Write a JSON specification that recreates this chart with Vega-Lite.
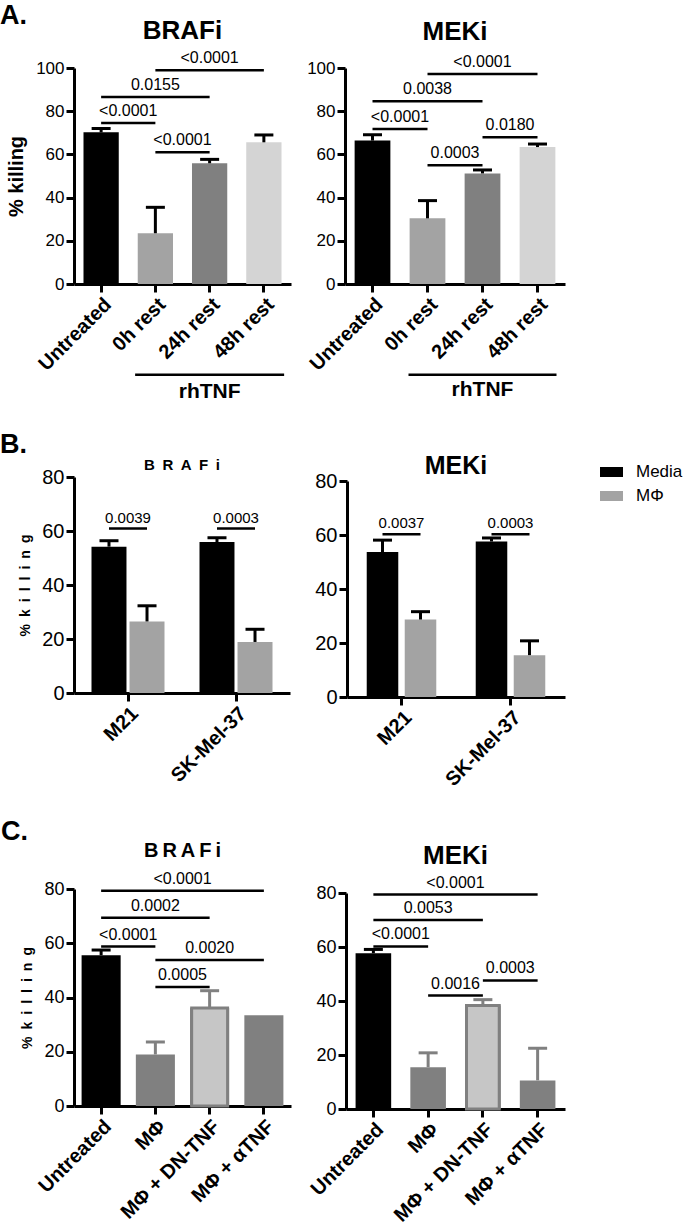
{
 "$schema": "https://vega.github.io/schema/vega-lite/v6.json",
 "background": "white",
 "padding": {"left": 0, "top": 2, "right": 0, "bottom": 0},
 "config": {
  "font": "Liberation Sans",
  "view": {"stroke": null},
  "axis": {"domainColor": "#000000", "domainWidth": 3, "tickColor": "#000000", "tickWidth": 3, "tickSize": 8, "labelColor": "#000000", "titleColor": "#000000", "grid": false, "labelFont": "Liberation Sans", "labelFontSize": 17, "labelPadding": 2, "labelOverlap": false, "titleFont": "Liberation Sans"},
  "axisX": {"labelAngle": -45, "labelFontWeight": "bold", "labelFontSize": 20},
  "axisY": {"titleFontSize": 14, "titleFontWeight": "bold"},
  "title": {"color": "#000000", "font": "Liberation Sans", "fontWeight": "bold"},
  "text": {"font": "Liberation Sans", "color": "#000000"},
  "tick": {"opacity": 1},
  "legend": {"labelFont": "Liberation Sans", "labelColor": "#000000"}
 },
 "datasets": {
  "aL": [
   {"cond": "Untreated", "mean": 70.2, "hi": 72.0},
   {"cond": "0h rest", "mean": 23.5, "hi": 35.5},
   {"cond": "24h rest", "mean": 55.9, "hi": 57.7},
   {"cond": "48h rest", "mean": 65.6, "hi": 69.0}
  ],
  "aLb": [
   {"from": "Untreated", "to": "0h rest", "span": 1, "y": 74.5, "label": "<0.0001"},
   {"from": "Untreated", "to": "24h rest", "span": 2, "y": 86.6, "label": "0.0155"},
   {"from": "0h rest", "to": "48h rest", "span": 2, "y": 99.0, "label": "<0.0001"},
   {"from": "0h rest", "to": "24h rest", "span": 1, "y": 61.0, "label": "<0.0001"}
  ],
  "aR": [
   {"cond": "Untreated", "mean": 66.4, "hi": 69.1},
   {"cond": "0h rest", "mean": 30.4, "hi": 38.6},
   {"cond": "24h rest", "mean": 51.2, "hi": 52.8},
   {"cond": "48h rest", "mean": 63.4, "hi": 64.8}
  ],
  "aRb": [
   {"from": "Untreated", "to": "0h rest", "span": 1, "y": 71.8, "label": "<0.0001"},
   {"from": "Untreated", "to": "24h rest", "span": 2, "y": 84.6, "label": "0.0038"},
   {"from": "0h rest", "to": "48h rest", "span": 2, "y": 97.2, "label": "<0.0001"},
   {"from": "0h rest", "to": "24h rest", "span": 1, "y": 55.0, "label": "0.0003"},
   {"from": "24h rest", "to": "48h rest", "span": 1, "y": 67.9, "label": "0.0180"}
  ],
  "bL": [
   {"cell": "M21", "treat": "Media", "mean": 54.2, "hi": 56.4},
   {"cell": "M21", "treat": "MΦ", "mean": 26.5, "hi": 32.3},
   {"cell": "SK-Mel-37", "treat": "Media", "mean": 55.9, "hi": 57.5},
   {"cell": "SK-Mel-37", "treat": "MΦ", "mean": 18.9, "hi": 23.6}
  ],
  "bLb": [
   {"cell": "M21", "y": 60.9, "label": "0.0039"},
   {"cell": "SK-Mel-37", "y": 60.9, "label": "0.0003"}
  ],
  "bR": [
   {"cell": "M21", "treat": "Media", "mean": 53.7, "hi": 58.1},
   {"cell": "M21", "treat": "MΦ", "mean": 28.7, "hi": 31.6},
   {"cell": "SK-Mel-37", "treat": "Media", "mean": 57.6, "hi": 58.9},
   {"cell": "SK-Mel-37", "treat": "MΦ", "mean": 15.5, "hi": 20.8}
  ],
  "bRb": [
   {"cell": "M21", "y": 60.3, "label": "0.0037"},
   {"cell": "SK-Mel-37", "y": 60.3, "label": "0.0003"}
  ],
  "cL": [
   {"cond": "Untreated", "mean": 55.6, "hi": 57.5},
   {"cond": "MΦ", "mean": 19.0, "hi": 23.6},
   {"cond": "MΦ + DN-TNF", "mean": 36.1, "hi": 42.5},
   {"cond": "MΦ + αTNF", "mean": 33.5, "hi": null}
  ],
  "cLb": [
   {"from": "Untreated", "to": "MΦ", "span": 1, "y": 58.8, "label": "<0.0001"},
   {"from": "Untreated", "to": "MΦ + DN-TNF", "span": 2, "y": 69.4, "label": "0.0002"},
   {"from": "Untreated", "to": "MΦ + αTNF", "span": 3, "y": 79.4, "label": "<0.0001"},
   {"from": "MΦ", "to": "MΦ + DN-TNF", "span": 1, "y": 43.9, "label": "0.0005"},
   {"from": "MΦ", "to": "MΦ + αTNF", "span": 2, "y": 53.8, "label": "0.0020"}
  ],
  "cR": [
   {"cond": "Untreated", "mean": 57.7, "hi": 59.1},
   {"cond": "MΦ", "mean": 15.5, "hi": 20.8},
   {"cond": "MΦ + DN-TNF", "mean": 38.3, "hi": 40.5},
   {"cond": "MΦ + αTNF", "mean": 10.6, "hi": 22.5}
  ],
  "cRb": [
   {"from": "Untreated", "to": "MΦ", "span": 1, "y": 60.2, "label": "<0.0001"},
   {"from": "Untreated", "to": "MΦ + DN-TNF", "span": 2, "y": 70.0, "label": "0.0053"},
   {"from": "Untreated", "to": "MΦ + αTNF", "span": 3, "y": 79.4, "label": "<0.0001"},
   {"from": "MΦ", "to": "MΦ + DN-TNF", "span": 1, "y": 42.0, "label": "0.0016"},
   {"from": "MΦ + DN-TNF", "to": "MΦ + αTNF", "span": 1, "y": 47.6, "label": "0.0003"}
  ]
 },
 "bounds": "flush",
 "spacing": 409,
 "resolve": {"scale": {"color": "independent", "xOffset": "independent"}, "legend": {"color": "independent"}},
 "vconcat": [
  {
   "title": {"text": "A.", "fontSize": 27, "fontWeight": "bold", "anchor": "start", "frame": "group", "dx": -74, "dy": 12, "offset": 0},
   "bounds": "flush",
   "spacing": 54,
   "resolve": {"scale": {"color": "independent", "xOffset": "independent"}, "legend": {"color": "independent"}},
   "hconcat": [
    {
     "width": 217, "height": 216,
     "title": {"text": "BRAFi", "fontSize": 26, "anchor": "middle", "frame": "group", "offset": 0, "dy": -6},
     "layer": [
      {"data": {"name": "aL"}, "mark": {"type": "bar"},
       "encoding": {
        "x": {"field": "cond", "type": "nominal", "scale": {"domain": ["Untreated", "0h rest", "24h rest", "48h rest"], "paddingInner": 0.35, "paddingOuter": 0.175}, "axis": {"title": null}},
        "y": {"field": "mean", "type": "quantitative", "scale": {"domain": [0, 100], "nice": false}, "axis": {"values": [0, 20, 40, 60, 80, 100], "title": "% killing", "titleFontSize": 20, "titleFontWeight": "bold", "titlePadding": 9}},
        "color": {"field": "cond", "type": "nominal", "scale": {"domain": ["Untreated", "0h rest", "24h rest", "48h rest"], "range": ["#000000", "#a3a3a3", "#808080", "#d4d4d4"]}, "legend": null}
       }},
      {"data": {"name": "aL"}, "mark": {"type": "rule", "strokeWidth": 3, "color": "#000000"},
       "encoding": {"x": {"field": "cond", "type": "nominal"}, "y": {"field": "mean", "type": "quantitative"}, "y2": {"field": "hi"}}},
      {"data": {"name": "aL"}, "mark": {"type": "tick", "thickness": 3, "size": 19, "color": "#000000", "opacity": 1},
       "encoding": {"x": {"field": "cond", "type": "nominal"}, "y": {"field": "hi", "type": "quantitative"}}},
      {"data": {"name": "aLb"}, "mark": {"type": "rule", "strokeWidth": 2.5, "color": "#000000"},
       "encoding": {"x": {"field": "from", "type": "nominal"}, "x2": {"field": "to"}, "y": {"field": "y", "type": "quantitative"}}},
      {"data": {"name": "aLb"}, "transform": [{"filter": "datum.span == 1"}], "mark": {"type": "text", "fontSize": 16, "baseline": "alphabetic", "dy": -7, "dx": 27.1},
       "encoding": {"x": {"field": "from", "type": "nominal"}, "y": {"field": "y", "type": "quantitative"}, "text": {"field": "label"}}},
      {"data": {"name": "aLb"}, "transform": [{"filter": "datum.span == 2"}], "mark": {"type": "text", "fontSize": 16, "baseline": "alphabetic", "dy": -7, "dx": 54.25},
       "encoding": {"x": {"field": "from", "type": "nominal"}, "y": {"field": "y", "type": "quantitative"}, "text": {"field": "label"}}},
      {"data": {"values": [{}]}, "mark": {"type": "tick", "thickness": 2.5, "size": 149, "color": "#000000", "opacity": 1},
       "encoding": {"x": {"datum": "24h rest"}, "y": {"datum": -42}}},
      {"data": {"values": [{}]}, "mark": {"type": "text", "fontSize": 21, "fontWeight": "bold", "baseline": "alphabetic"},
       "encoding": {"x": {"datum": "24h rest"}, "y": {"datum": -53}, "text": {"value": "rhTNF"}}}
     ]
    },
    {
     "width": 220, "height": 216,
     "title": {"text": "MEKi", "fontSize": 26, "anchor": "middle", "frame": "group", "offset": 0, "dy": -9},
     "layer": [
      {"data": {"name": "aR"}, "mark": {"type": "bar"},
       "encoding": {
        "x": {"field": "cond", "type": "nominal", "scale": {"domain": ["Untreated", "0h rest", "24h rest", "48h rest"], "paddingInner": 0.35, "paddingOuter": 0.175}, "axis": {"title": null}},
        "y": {"field": "mean", "type": "quantitative", "scale": {"domain": [0, 100], "nice": false}, "axis": {"values": [0, 20, 40, 60, 80, 100], "title": null}},
        "color": {"field": "cond", "type": "nominal", "scale": {"domain": ["Untreated", "0h rest", "24h rest", "48h rest"], "range": ["#000000", "#a3a3a3", "#808080", "#d4d4d4"]}, "legend": null}
       }},
      {"data": {"name": "aR"}, "mark": {"type": "rule", "strokeWidth": 3, "color": "#000000"},
       "encoding": {"x": {"field": "cond", "type": "nominal"}, "y": {"field": "mean", "type": "quantitative"}, "y2": {"field": "hi"}}},
      {"data": {"name": "aR"}, "mark": {"type": "tick", "thickness": 3, "size": 19, "color": "#000000", "opacity": 1},
       "encoding": {"x": {"field": "cond", "type": "nominal"}, "y": {"field": "hi", "type": "quantitative"}}},
      {"data": {"name": "aRb"}, "mark": {"type": "rule", "strokeWidth": 2.5, "color": "#000000"},
       "encoding": {"x": {"field": "from", "type": "nominal"}, "x2": {"field": "to"}, "y": {"field": "y", "type": "quantitative"}}},
      {"data": {"name": "aRb"}, "transform": [{"filter": "datum.span == 1"}], "mark": {"type": "text", "fontSize": 16, "baseline": "alphabetic", "dy": -7, "dx": 27.5},
       "encoding": {"x": {"field": "from", "type": "nominal"}, "y": {"field": "y", "type": "quantitative"}, "text": {"field": "label"}}},
      {"data": {"name": "aRb"}, "transform": [{"filter": "datum.span == 2"}], "mark": {"type": "text", "fontSize": 16, "baseline": "alphabetic", "dy": -7, "dx": 55},
       "encoding": {"x": {"field": "from", "type": "nominal"}, "y": {"field": "y", "type": "quantitative"}, "text": {"field": "label"}}},
      {"data": {"values": [{}]}, "mark": {"type": "tick", "thickness": 2.5, "size": 148, "color": "#000000", "opacity": 1},
       "encoding": {"x": {"datum": "24h rest"}, "y": {"datum": -42}}},
      {"data": {"values": [{}]}, "mark": {"type": "text", "fontSize": 21, "fontWeight": "bold", "baseline": "alphabetic"},
       "encoding": {"x": {"datum": "24h rest"}, "y": {"datum": -52}, "text": {"value": "rhTNF"}}}
     ]
    }
   ]
  },
  {
   "bounds": "flush",
   "spacing": 412,
   "resolve": {"scale": {"color": "independent", "xOffset": "independent"}, "legend": {"color": "independent"}},
   "vconcat": [
    {
     "title": {"text": "B.", "fontSize": 27, "fontWeight": "bold", "anchor": "start", "frame": "group", "dx": -74, "dy": 5, "offset": 0},
     "bounds": "flush",
     "spacing": 57,
     "resolve": {"scale": {"color": "independent", "xOffset": "independent"}, "legend": {"color": "independent"}},
     "hconcat": [
      {
       "width": 216, "height": 216,
       "title": {"text": "B\u2002R\u2002A\u2002F\u2002i", "fontSize": 15, "anchor": "middle", "frame": "group", "offset": 0, "dy": 6},
       "layer": [
        {"data": {"name": "bL"}, "mark": {"type": "bar"},
         "encoding": {
          "x": {"field": "cell", "type": "nominal", "scale": {"domain": ["M21", "SK-Mel-37"], "paddingInner": 0.324, "paddingOuter": 0.162}, "axis": {"title": null, "labelFontSize": 20}},
          "xOffset": {"field": "treat", "type": "nominal", "scale": {"domain": ["Media", "MΦ"], "paddingInner": 0.08, "paddingOuter": 0}},
          "y": {"field": "mean", "type": "quantitative", "scale": {"domain": [0, 80], "nice": false}, "axis": {"values": [0, 20, 40, 60, 80], "labelFontSize": 20, "title": "%\u2002k\u2002i\u2002l\u2002l\u2002i\u2002n\u2002g", "titlePadding": 9}},
          "color": {"field": "treat", "type": "nominal", "scale": {"domain": ["Media", "MΦ"], "range": ["#000000", "#a3a3a3"]}, "legend": null}
         }},
        {"data": {"name": "bL"}, "mark": {"type": "rule", "strokeWidth": 3, "color": "#000000"},
         "encoding": {"x": {"field": "cell", "type": "nominal"}, "xOffset": {"field": "treat", "type": "nominal"}, "y": {"field": "mean", "type": "quantitative"}, "y2": {"field": "hi"}}},
        {"data": {"name": "bL"}, "mark": {"type": "tick", "thickness": 3, "size": 19, "color": "#000000", "opacity": 1},
         "encoding": {"x": {"field": "cell", "type": "nominal"}, "xOffset": {"field": "treat", "type": "nominal"}, "y": {"field": "hi", "type": "quantitative"}}},
        {"data": {"name": "bLb"}, "mark": {"type": "tick", "thickness": 2.5, "size": 38, "color": "#000000", "opacity": 1},
         "encoding": {"x": {"field": "cell", "type": "nominal"}, "y": {"field": "y", "type": "quantitative"}}},
        {"data": {"name": "bLb"}, "mark": {"type": "text", "fontSize": 15, "baseline": "alphabetic", "dy": -6},
         "encoding": {"x": {"field": "cell", "type": "nominal"}, "y": {"field": "y", "type": "quantitative"}, "text": {"field": "label"}}}
       ]
      },
      {
       "width": 218, "height": 220,
       "title": {"text": "MEKi", "fontSize": 25, "anchor": "middle", "frame": "group", "offset": 0, "dy": 18},
       "layer": [
        {"data": {"name": "bR"}, "mark": {"type": "bar"},
         "encoding": {
          "x": {"field": "cell", "type": "nominal", "scale": {"domain": ["M21", "SK-Mel-37"], "paddingInner": 0.362, "paddingOuter": 0.181}, "axis": {"title": null, "labelFontSize": 20}},
          "xOffset": {"field": "treat", "type": "nominal", "scale": {"domain": ["Media", "MΦ"], "paddingInner": 0.17, "paddingOuter": 0}},
          "y": {"field": "mean", "type": "quantitative", "scale": {"domain": [0, 80], "nice": false, "range": [220, 4]}, "axis": {"values": [0, 20, 40, 60, 80], "labelFontSize": 20, "title": null}},
          "color": {"field": "treat", "type": "nominal", "scale": {"domain": ["Media", "MΦ"], "range": ["#000000", "#a3a3a3"]},
                    "legend": {"orient": "none", "legendX": 253, "legendY": -16.5, "title": null, "symbolType": "M-1,-0.435H1V0.435H-1Z", "symbolSize": 529, "symbolStrokeWidth": 0, "labelFontSize": 17, "labelOffset": 13, "rowPadding": 4, "padding": 0}}
         }},
        {"data": {"name": "bR"}, "mark": {"type": "rule", "strokeWidth": 3, "color": "#000000"},
         "encoding": {"x": {"field": "cell", "type": "nominal"}, "xOffset": {"field": "treat", "type": "nominal"}, "y": {"field": "mean", "type": "quantitative"}, "y2": {"field": "hi"}}},
        {"data": {"name": "bR"}, "mark": {"type": "tick", "thickness": 3, "size": 19, "color": "#000000", "opacity": 1},
         "encoding": {"x": {"field": "cell", "type": "nominal"}, "xOffset": {"field": "treat", "type": "nominal"}, "y": {"field": "hi", "type": "quantitative"}}},
        {"data": {"name": "bRb"}, "mark": {"type": "tick", "thickness": 2.5, "size": 38, "color": "#000000", "opacity": 1},
         "encoding": {"x": {"field": "cell", "type": "nominal"}, "y": {"field": "y", "type": "quantitative"}}},
        {"data": {"name": "bRb"}, "mark": {"type": "text", "fontSize": 15, "baseline": "alphabetic", "dy": -6},
         "encoding": {"x": {"field": "cell", "type": "nominal"}, "y": {"field": "y", "type": "quantitative"}, "text": {"field": "label"}}}
       ]
      }
     ]
    },
    {
     "title": {"text": "C.", "fontSize": 27, "fontWeight": "bold", "anchor": "start", "frame": "group", "dx": -73, "dy": 5, "offset": 0},
     "bounds": "flush",
     "spacing": 55,
     "resolve": {"scale": {"color": "independent", "xOffset": "independent"}, "legend": {"color": "independent"}},
     "hconcat": [
      {
       "width": 217, "height": 217,
       "title": {"text": "B\u2009R\u2009A\u2009F\u2009i", "fontSize": 20, "anchor": "middle", "frame": "group", "offset": 0, "dy": -10},
       "layer": [
        {"data": {"name": "cL"}, "mark": {"type": "bar"},
         "encoding": {
          "x": {"field": "cond", "type": "nominal", "scale": {"domain": ["Untreated", "MΦ", "MΦ + DN-TNF", "MΦ + αTNF"], "paddingInner": 0.28, "paddingOuter": 0.14}, "axis": {"title": null}},
          "y": {"field": "mean", "type": "quantitative", "scale": {"domain": [0, 80], "nice": false}, "axis": {"values": [0, 20, 40, 60, 80], "labelFontSize": 18, "title": "%\u2002k\u2002i\u2002l\u2002l\u2002i\u2002n\u2002g", "titlePadding": 9}},
          "color": {"field": "cond", "type": "nominal", "scale": {"domain": ["Untreated", "MΦ", "MΦ + DN-TNF", "MΦ + αTNF"], "range": ["#000000", "#808080", "#808080", "#808080"]}, "legend": null}
         }},
        {"data": {"name": "cL"}, "transform": [{"filter": "datum.cond == 'MΦ + DN-TNF'"}], "mark": {"type": "bar", "fill": "#c6c6c6", "stroke": "#808080", "strokeWidth": 3, "width": {"band": 0.92}},
         "encoding": {"x": {"field": "cond", "type": "nominal"}, "y": {"field": "mean", "type": "quantitative"}}},
        {"data": {"name": "cL"}, "transform": [{"filter": "datum.hi != null"}], "mark": {"type": "rule", "strokeWidth": 3},
         "encoding": {"x": {"field": "cond", "type": "nominal"}, "y": {"field": "mean", "type": "quantitative"}, "y2": {"field": "hi"}, "color": {"field": "cond", "type": "nominal", "legend": null}}},
        {"data": {"name": "cL"}, "transform": [{"filter": "datum.hi != null"}], "mark": {"type": "tick", "thickness": 3, "size": 19, "opacity": 1},
         "encoding": {"x": {"field": "cond", "type": "nominal"}, "y": {"field": "hi", "type": "quantitative"}, "color": {"field": "cond", "type": "nominal", "legend": null}}},
        {"data": {"name": "cLb"}, "mark": {"type": "rule", "strokeWidth": 2.5, "color": "#000000"},
         "encoding": {"x": {"field": "from", "type": "nominal"}, "x2": {"field": "to"}, "y": {"field": "y", "type": "quantitative"}}},
        {"data": {"name": "cLb"}, "transform": [{"filter": "datum.span == 1"}], "mark": {"type": "text", "fontSize": 16, "baseline": "alphabetic", "dy": -7, "dx": 27.1},
         "encoding": {"x": {"field": "from", "type": "nominal"}, "y": {"field": "y", "type": "quantitative"}, "text": {"field": "label"}}},
        {"data": {"name": "cLb"}, "transform": [{"filter": "datum.span == 2"}], "mark": {"type": "text", "fontSize": 16, "baseline": "alphabetic", "dy": -7, "dx": 54.25},
         "encoding": {"x": {"field": "from", "type": "nominal"}, "y": {"field": "y", "type": "quantitative"}, "text": {"field": "label"}}},
        {"data": {"name": "cLb"}, "transform": [{"filter": "datum.span == 3"}], "mark": {"type": "text", "fontSize": 16, "baseline": "alphabetic", "dy": -7, "dx": 81.4},
         "encoding": {"x": {"field": "from", "type": "nominal"}, "y": {"field": "y", "type": "quantitative"}, "text": {"field": "label"}}}
       ]
      },
      {
       "width": 219, "height": 220,
       "title": {"text": "MEKi", "fontSize": 26, "anchor": "middle", "frame": "group", "offset": 0, "dy": -6},
       "layer": [
        {"data": {"name": "cR"}, "mark": {"type": "bar"},
         "encoding": {
          "x": {"field": "cond", "type": "nominal", "scale": {"domain": ["Untreated", "MΦ", "MΦ + DN-TNF", "MΦ + αTNF"], "paddingInner": 0.35, "paddingOuter": 0.175}, "axis": {"title": null}},
          "y": {"field": "mean", "type": "quantitative", "scale": {"domain": [0, 80], "nice": false, "range": [220, 4]}, "axis": {"values": [0, 20, 40, 60, 80], "labelFontSize": 18, "title": null}},
          "color": {"field": "cond", "type": "nominal", "scale": {"domain": ["Untreated", "MΦ", "MΦ + DN-TNF", "MΦ + αTNF"], "range": ["#000000", "#808080", "#808080", "#808080"]}, "legend": null}
         }},
        {"data": {"name": "cR"}, "transform": [{"filter": "datum.cond == 'MΦ + DN-TNF'"}], "mark": {"type": "bar", "fill": "#c6c6c6", "stroke": "#808080", "strokeWidth": 3, "width": {"band": 0.92}},
         "encoding": {"x": {"field": "cond", "type": "nominal"}, "y": {"field": "mean", "type": "quantitative"}}},
        {"data": {"name": "cR"}, "transform": [{"filter": "datum.hi != null"}], "mark": {"type": "rule", "strokeWidth": 3},
         "encoding": {"x": {"field": "cond", "type": "nominal"}, "y": {"field": "mean", "type": "quantitative"}, "y2": {"field": "hi"}, "color": {"field": "cond", "type": "nominal", "legend": null}}},
        {"data": {"name": "cR"}, "transform": [{"filter": "datum.hi != null"}], "mark": {"type": "tick", "thickness": 3, "size": 19, "opacity": 1},
         "encoding": {"x": {"field": "cond", "type": "nominal"}, "y": {"field": "hi", "type": "quantitative"}, "color": {"field": "cond", "type": "nominal", "legend": null}}},
        {"data": {"name": "cRb"}, "mark": {"type": "rule", "strokeWidth": 2.5, "color": "#000000"},
         "encoding": {"x": {"field": "from", "type": "nominal"}, "x2": {"field": "to"}, "y": {"field": "y", "type": "quantitative"}}},
        {"data": {"name": "cRb"}, "transform": [{"filter": "datum.span == 1"}], "mark": {"type": "text", "fontSize": 16, "baseline": "alphabetic", "dy": -7, "dx": 27.4},
         "encoding": {"x": {"field": "from", "type": "nominal"}, "y": {"field": "y", "type": "quantitative"}, "text": {"field": "label"}}},
        {"data": {"name": "cRb"}, "transform": [{"filter": "datum.span == 2"}], "mark": {"type": "text", "fontSize": 16, "baseline": "alphabetic", "dy": -7, "dx": 54.75},
         "encoding": {"x": {"field": "from", "type": "nominal"}, "y": {"field": "y", "type": "quantitative"}, "text": {"field": "label"}}},
        {"data": {"name": "cRb"}, "transform": [{"filter": "datum.span == 3"}], "mark": {"type": "text", "fontSize": 16, "baseline": "alphabetic", "dy": -7, "dx": 82.1},
         "encoding": {"x": {"field": "from", "type": "nominal"}, "y": {"field": "y", "type": "quantitative"}, "text": {"field": "label"}}}
       ]
      }
     ]
    }
   ]
  }
 ]
}
